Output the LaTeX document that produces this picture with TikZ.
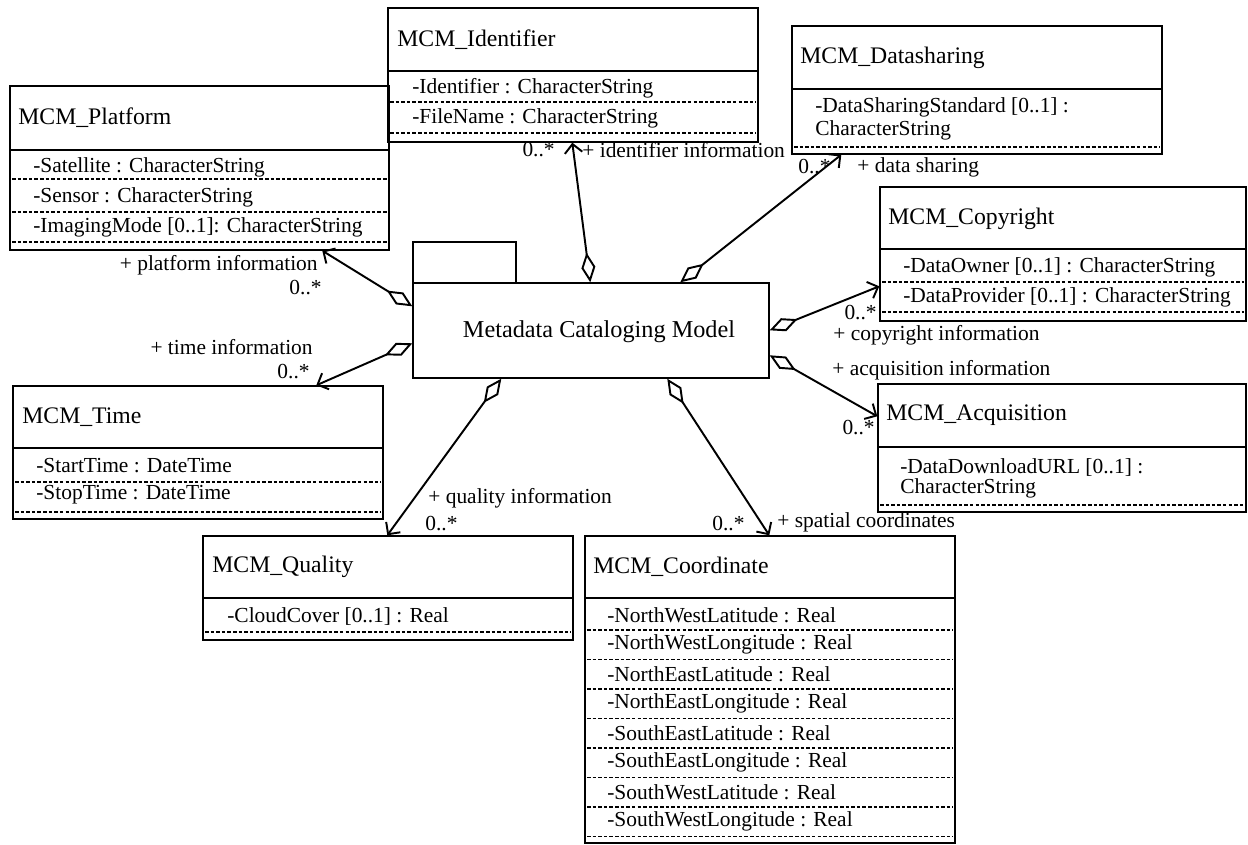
\documentclass[tikz,border=0pt]{standalone}
\usepackage{fontspec}
\setmainfont{Liberation Serif}
\usetikzlibrary{arrows.meta,fit,calc}

\begin{document}
\begin{tikzpicture}[x=0.02cm, y=-0.02cm,
  box/.style={draw, line width=0.8pt, inner sep=0pt},
  title/.style={anchor=west, inner sep=0pt, font=\fontsize{13.5}{15}\selectfont},
  attr/.style={anchor=west, inner sep=0pt, font=\fontsize{12.2}{14}\selectfont},
  role/.style={inner sep=0pt, font=\fontsize{12.2}{14}\selectfont},
  rule/.style={line width=0.8pt},
  dots/.style={line width=1pt, dash pattern=on 2pt off 1.2pt},
  assoc/.style={line width=1.1pt, {Diamond[open, length=17pt, width=8pt]}-{Straight Barb[length=5pt, width=10pt]}}]

\useasboundingbox (0,0) rectangle (1248,845);

% central package
\node[box, fit={(413,242) (516,283)}] (tab) {};
\node[box, fill=white, fit={(413,283) (769,378)}] (model) {};
\node[font=\fontsize{13.8}{16}\selectfont] (modelname) at (599,332) {Metadata Cataloging Model};

% MCM_Platform
\node[box, fit={(10,86) (389,250)}] (platform) {};
\node[title] (platformname) at (18,118) {MCM\_Platform};
\draw[rule] (10,150) -- (389,150);
\node[attr] (satellite) at (33,167) {-Satellite : CharacterString};
\draw[dots] (12,179) -- (387,179);
\node[attr] (sensor) at (33,197) {-Sensor : CharacterString};
\draw[dots] (12,212) -- (387,212);
\node[attr] (imaging) at (33,227) {-ImagingMode [0..1]: CharacterString};
\draw[dots] (12,242) -- (387,242);

% MCM_Identifier
\node[box, fit={(388,8) (758,142)}] (identifier) {};
\node[title] (identifiername) at (397,40) {MCM\_Identifier};
\draw[rule] (388,71) -- (758,71);
\node[attr] (ident) at (412,88) {-Identifier : CharacterString};
\draw[dots] (390,102) -- (756,102);
\node[attr] (filename) at (412,118) {-FileName : CharacterString};
\draw[dots] (390,133) -- (756,133);

% MCM_Datasharing
\node[box, fit={(792,26) (1162,154)}] (datasharing) {};
\node[title] (datasharingname) at (800,58) {MCM\_Datasharing};
\draw[rule] (792,89) -- (1162,89);
\node[attr] (standard) at (815,107) {-DataSharingStandard [0..1] :};
\node[attr] (standardtype) at (815,130) {CharacterString};
\draw[dots] (794,147) -- (1160,147);

% MCM_Copyright
\node[box, fit={(880,187) (1246,321)}] (copyright) {};
\node[title] (copyrightname) at (888,219) {MCM\_Copyright};
\draw[rule] (880,249) -- (1246,249);
\node[attr] (owner) at (903,267) {-DataOwner [0..1] : CharacterString};
\draw[dots] (882,282) -- (1244,282);
\node[attr] (provider) at (903,297) {-DataProvider [0..1] : CharacterString};
\draw[dots] (882,312) -- (1244,312);

% MCM_Acquisition
\node[box, fit={(878,384) (1246,512)}] (acquisition) {};
\node[title] (acquisitionname) at (886,415) {MCM\_Acquisition};
\draw[rule] (878,447) -- (1246,447);
\node[attr] (download) at (900,467) {-DataDownloadURL [0..1] :};
\node[attr] (downloadtype) at (900,488) {CharacterString};
\draw[dots] (880,505) -- (1244,505);

% MCM_Time
\node[box, fit={(13,386) (383,519)}] (time) {};
\node[title] (timename) at (22,417) {MCM\_Time};
\draw[rule] (13,448) -- (383,448);
\node[attr] (start) at (36,466) {-StartTime : DateTime};
\draw[dots] (15,482) -- (381,482);
\node[attr] (stop) at (36,495) {-StopTime : DateTime};
\draw[dots] (15,512) -- (381,512);

% MCM_Quality
\node[box, fit={(203,536) (573,640)}] (quality) {};
\node[title] (qualityname) at (212,567) {MCM\_Quality};
\draw[rule] (203,598) -- (573,598);
\node[attr] (cloud) at (227,616) {-CloudCover [0..1] : Real};
\draw[dots] (205,632) -- (571,632);

% MCM_Coordinate
\node[box, fit={(585,536) (955,843)}] (coordinate) {};
\node[title] (coordinatename) at (593,567) {MCM\_Coordinate};
\draw[rule] (585,598) -- (955,598);
\foreach \corner [count=\i from 0] in {NorthWestLatitude, NorthWestLongitude,
    NorthEastLatitude, NorthEastLongitude, SouthEastLatitude, SouthEastLongitude,
    SouthWestLatitude, SouthWestLongitude} {
  \node[attr] (corner\i) at (607,615+29.5*\i) {-\corner\ : Real};
  \draw[dots] (587,630+29.5*\i) -- (953,630+29.5*\i);
}

% roles and multiplicities
\node[role, anchor=east] (platformrole) at (318,265) {+ platform information};
\node[role, anchor=east] (platformmult) at (322,288) {0..*};
\node[role, anchor=east] (timerole) at (313,347) {+ time information};
\node[role, anchor=east] (timemult) at (310,372) {0..*};
\node[role, anchor=west] (qualityrole) at (428,498) {+ quality information};
\node[role, anchor=west] (qualitymult) at (425,524) {0..*};
\node[role, anchor=west] (coordinatemult) at (712,524) {0..*};
\node[role, anchor=west] (coordinaterole) at (777,522) {+ spatial coordinates};
\node[role, anchor=west] (acquisitionrole) at (832,370) {+ acquisition information};
\node[role, anchor=east] (acquisitionmult) at (875,428) {0..*};
\node[role, anchor=west] (copyrightrole) at (833,335) {+ copyright information};
\node[role, anchor=east] (copyrightmult) at (877,313) {0..*};
\node[role, anchor=west] (datasharingmult) at (798,167) {0..*};
\node[role, anchor=west] (datasharingrole) at (857,167) {+ data sharing};
\node[role, anchor=east] (identifiermult) at (555,150) {0..*};
\node[role, anchor=west] (identifierrole) at (582,150) {+ identifier information};

% aggregations
\draw[assoc] ($(model.north west)+(0,24)$) -- ($(platform.south west)+(313,0)$);
\draw[assoc] ($(model.north west)+(0,61)$) -- ($(time.north west)+(304,0)$);
\draw[assoc] ($(model.south west)+(89,0)$) -- ($(quality.north west)+(185,0)$);
\draw[assoc] ($(model.south west)+(255,0)$) -- ($(coordinate.north west)+(185,0)$);
\draw[assoc] ($(model.north east)+(0,73)$) -- ($(acquisition.north west)+(0,33)$);
\draw[assoc] ($(model.north east)+(0,48)$) -- ($(copyright.north west)+(0,100)$);
\draw[assoc] ($(model.north west)+(268,0)$) -- ($(datasharing.south west)+(50,0)$);
\draw[assoc] ($(model.north west)+(178,0)$) -- ($(identifier.south west)+(185,0)$);

\end{tikzpicture}
\end{document}
